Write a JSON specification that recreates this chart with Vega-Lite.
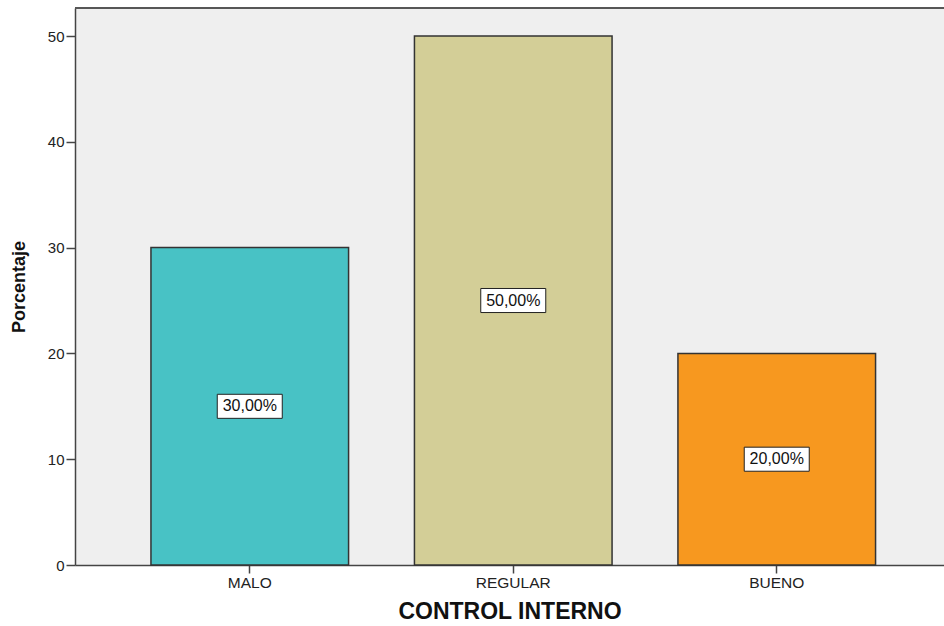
{
  "$schema": "https://vega.github.io/schema/vega-lite/v6.json",
  "width": 869,
  "height": 557,
  "autosize": {"type": "none"},
  "padding": {"left": 75, "top": 8, "right": 0, "bottom": 61},
  "background": "#ffffff",
  "data": {
    "values": [
      {"control": "MALO", "porcentaje": 30, "etiqueta": "30,00%"},
      {"control": "REGULAR", "porcentaje": 50, "etiqueta": "50,00%"},
      {"control": "BUENO", "porcentaje": 20, "etiqueta": "20,00%"}
    ]
  },
  "layer": [
    {
      "mark": {"type": "bar", "stroke": "#333333", "strokeWidth": 1.5},
      "encoding": {
        "x": {
          "field": "control",
          "type": "nominal",
          "sort": ["MALO", "REGULAR", "BUENO"],
          "scale": {"paddingInner": 0.25, "paddingOuter": 0.274, "align": 0.526},
          "axis": {
            "title": "CONTROL INTERNO",
            "labelAngle": 0,
            "labelFont": "Liberation Sans",
            "labelFontSize": 15.5,
            "labelColor": "#222222",
            "labelPadding": 2,
            "tickSize": 8,
            "tickColor": "#444444",
            "tickWidth": 1.5,
            "domainColor": "#444444",
            "domainWidth": 1.5,
            "titleFont": "Liberation Sans",
            "titleFontSize": 23,
            "titleFontWeight": "bold",
            "titleColor": "#111111",
            "titlePadding": 10
          }
        },
        "y": {
          "field": "porcentaje",
          "type": "quantitative",
          "scale": {"domain": [0, 52.65], "nice": false},
          "axis": {
            "title": "Porcentaje",
            "values": [0, 10, 20, 30, 40, 50],
            "grid": false,
            "labelFont": "Liberation Sans",
            "labelFontSize": 15,
            "labelColor": "#222222",
            "labelPadding": 2,
            "tickSize": 9,
            "tickColor": "#444444",
            "tickWidth": 1.5,
            "domainColor": "#444444",
            "domainWidth": 1.5,
            "titleFont": "Liberation Sans",
            "titleFontSize": 18,
            "titleFontWeight": "bold",
            "titleColor": "#111111",
            "titlePadding": 19
          }
        },
        "color": {
          "field": "control",
          "type": "nominal",
          "scale": {
            "domain": ["MALO", "REGULAR", "BUENO"],
            "range": ["#48c2c5", "#d3ce97", "#f7981f"]
          },
          "legend": null
        }
      }
    },
    {
      "mark": {"type": "rule", "color": "#555555", "strokeWidth": 1.5},
      "encoding": {"y": {"datum": 52.65, "type": "quantitative"}}
    },
    {
      "transform": [{"calculate": "datum.porcentaje / 2", "as": "mitad"}],
      "mark": {
        "type": "point",
        "shape": "M-1,-0.37L1,-0.37L1,0.37L-1,0.37Z",
        "size": 4225,
        "filled": true,
        "fill": "#ffffff",
        "stroke": "#222222",
        "strokeWidth": 1,
        "opacity": 1
      },
      "encoding": {
        "x": {"field": "control", "type": "nominal", "sort": ["MALO", "REGULAR", "BUENO"]},
        "y": {"field": "mitad", "type": "quantitative"}
      }
    },
    {
      "transform": [{"calculate": "datum.porcentaje / 2", "as": "mitad"}],
      "mark": {
        "type": "text",
        "font": "Liberation Sans",
        "fontSize": 16,
        "color": "#111111",
        "baseline": "middle",
        "align": "center"
      },
      "encoding": {
        "x": {"field": "control", "type": "nominal", "sort": ["MALO", "REGULAR", "BUENO"]},
        "y": {"field": "mitad", "type": "quantitative"},
        "text": {"field": "etiqueta"}
      }
    }
  ],
  "config": {
    "view": {"fill": "#efefef", "stroke": null}
  }
}
